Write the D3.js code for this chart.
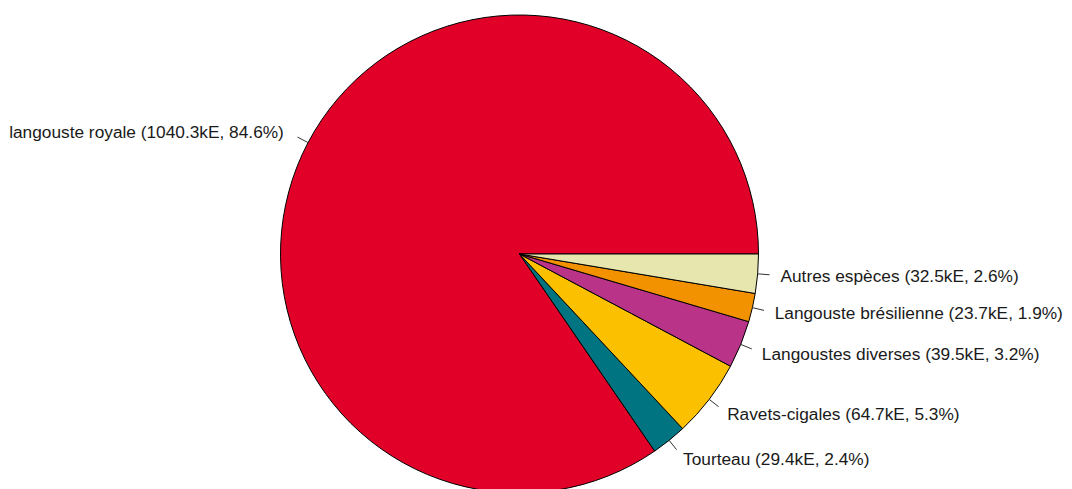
<!DOCTYPE html>
<html>
<head>
<meta charset="utf-8">
<script src="https://cdn.jsdelivr.net/npm/d3@7"></script>
<style>
	html, body { margin: 0; padding: 0; background: #ffffff; }
	svg { display: block; }
	.lbl { font-family: "Liberation Sans", Arial, sans-serif; font-size: 17.3px; fill: #1a1a1a; }
</style>
</head>
<body>
<div id="chart"></div>
<script>

var species = ["langouste royale", "Tourteau", "Ravets-cigales", "Langoustes diverses", "Langouste brésilienne", "Autres espèces"];
var valuesKE = [1040.3, 29.4, 64.7, 39.5, 23.7, 32.5];
var percents = [84.6, 2.4, 5.3, 3.2, 1.9, 2.6];
var colors = ["#E00028", "#007480", "#FBC000", "#B93388", "#F39200", "#E6E6AE"];


var W = 1072, H = 489;
var cx = 519.5, cy = 254, R = 239;

var svg = d3.select("#chart").append("svg")
	.attr("width", W)
	.attr("height", H);

var g = svg.append("g")
	.attr("transform", "translate(" + cx + "," + cy + ")");

// R pie: starts at 3 o'clock and goes counterclockwise
var pie = d3.pie()
	.sort(null)
	.value(function(d) { return d; })
	.startAngle(Math.PI / 2)
	.endAngle(Math.PI / 2 - 2 * Math.PI);

var arcs = pie(valuesKE);

var arc = d3.arc()
	.innerRadius(0)
	.outerRadius(R);

g.selectAll("path.slice")
	.data(arcs)
	.enter().append("path")
	.attr("class", "slice")
	.attr("d", arc)
	.attr("fill", function(d, i) { return colors[i]; })
	.attr("stroke", "#000")
	.attr("stroke-width", 1)
	.attr("stroke-linejoin", "round");

function mid(d)
{
	return (d.startAngle + d.endAngle) / 2;
}

g.selectAll("line.tick")
	.data(arcs)
	.enter().append("line")
	.attr("class", "tick")
	.attr("x1", function(d) { return R * Math.sin(mid(d)); })
	.attr("y1", function(d) { return -R * Math.cos(mid(d)); })
	.attr("x2", function(d) { return 1.05 * R * Math.sin(mid(d)); })
	.attr("y2", function(d) { return -1.05 * R * Math.cos(mid(d)); })
	.attr("stroke", "#333")
	.attr("stroke-width", 1);

g.selectAll("text.lbl")
	.data(arcs)
	.enter().append("text")
	.attr("class", "lbl")
	.attr("x", function(d) { return 1.1 * R * Math.sin(mid(d)) + (Math.sin(mid(d)) < 0 ? -3 : -1); })
	.attr("y", function(d) { return -1.1 * R * Math.cos(mid(d)); })
	.attr("dy", "0.35em")
	.attr("text-anchor", function(d) { return Math.sin(mid(d)) < 0 ? "end" : "start"; })
	.text(function(d, i) { return species[i] + " (" + valuesKE[i].toFixed(1) + "kE, " + percents[i].toFixed(1) + "%)"; });

</script>
</body>
</html>
